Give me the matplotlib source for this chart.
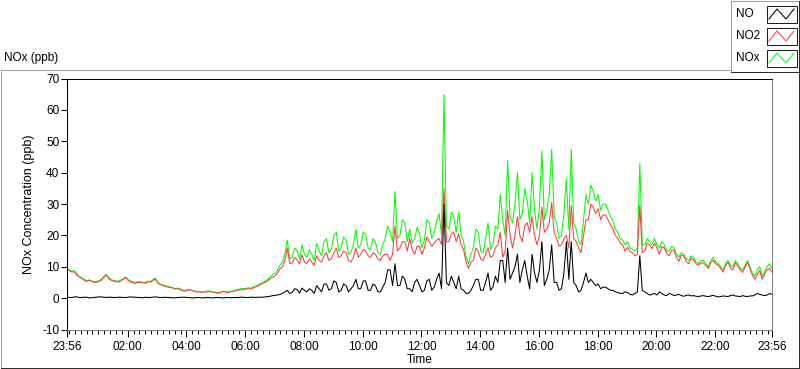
import numpy as np
import matplotlib
matplotlib.use("Agg")
import matplotlib.pyplot as plt
from matplotlib.patches import Rectangle

plt.rcParams['font.family'] = ['Liberation Sans', 'DejaVu Sans']

# ---------------- data (5-minute samples starting 23:56) ----------------
series_names = ["NO", "NO2", "NOx"]
series_colors = ["#000000", "#ff3c3c", "#00ff00"]
sample_minutes = 5

nox = [9.5, 9.0, 8.5, 8.8, 7.8, 7.0, 6.5, 6.0, 5.6, 5.8, 5.5, 5.2, 5.3, 5.7, 6.0, 6.8, 7.6, 6.5, 6.0, 5.6,
       5.5, 5.4, 5.8, 6.2, 6.7, 5.9, 5.5, 5.2, 5.0, 5.3, 5.2, 5.0, 5.0, 5.4, 5.3, 5.8, 6.5, 5.2, 4.5, 4.3,
       4.0, 3.8, 3.6, 3.4, 3.0, 3.2, 3.0, 2.7, 2.5, 2.6, 2.8, 2.5, 2.3, 2.1, 2.2, 2.0, 2.0, 2.2, 2.3, 2.1,
       2.0, 1.8, 1.8, 2.0, 2.2, 2.1, 2.0, 2.2, 2.3, 2.6, 2.8, 3.0, 3.0, 3.1, 3.3, 3.2, 3.5, 3.8, 4.2, 4.6,
       5.0, 5.5, 6.0, 6.8, 7.5, 8.0, 9.0, 10.5, 11.5, 14.0, 18.5, 12.5, 13.0, 16.0, 15.0, 12.5, 17.0, 14.0, 13.0, 15.5,
       14.0, 12.0, 17.5, 15.0, 13.5, 18.0, 19.0, 14.5, 15.5, 20.0, 21.0, 15.0, 16.0, 19.5, 18.5, 14.0, 14.5, 17.0, 22.0, 16.0,
       17.0, 21.0, 20.5, 16.0, 15.5, 19.0, 18.0, 14.5, 14.0, 17.0, 19.0, 23.0, 21.0, 18.0, 34.0, 19.0, 20.0, 25.0, 24.0, 18.0,
       22.0, 17.5, 19.0, 22.5, 20.5, 16.0, 18.5, 25.0, 24.0, 19.0, 21.0, 24.5, 27.0, 20.0, 65.0, 23.0, 22.0, 27.5, 26.0, 21.0,
       27.5, 20.0, 18.0, 13.0, 11.0, 14.0, 16.0, 22.0, 21.0, 15.0, 14.5, 19.0, 24.0, 15.5, 17.0, 23.0, 22.0, 33.0, 25.0, 20.0,
       44.0, 26.0, 24.0, 30.0, 40.0, 25.0, 27.0, 35.0, 31.0, 24.0, 40.0, 28.0, 22.0, 29.0, 47.0, 25.0, 28.0, 33.0, 47.5, 26.0,
       24.0, 19.0, 20.0, 27.0, 38.0, 22.0, 47.5, 24.0, 22.0, 18.0, 17.0, 25.0, 33.0, 30.0, 36.0, 34.0, 31.0, 33.0, 28.0, 30.0,
       30.0, 28.0, 26.0, 24.5, 22.0, 21.0, 19.0, 18.5, 17.0, 18.0, 16.0, 15.5, 15.0, 16.0, 43.0, 17.0, 17.0, 19.0, 18.0, 17.0,
       19.0, 17.0, 16.0, 18.0, 17.0, 15.0, 15.0, 16.5, 16.0, 14.0, 13.0, 14.5, 14.0, 12.5, 12.0, 13.5, 13.0, 11.5, 11.0, 12.0,
       12.0, 11.0, 10.0, 12.0, 13.0, 11.5, 11.0, 10.0, 9.0, 11.0, 12.0, 10.5, 10.0, 12.0, 11.0, 9.5, 9.0, 10.5, 12.0, 10.0,
       8.0, 7.0, 9.0, 10.0, 7.0, 8.5, 10.0, 11.0, 9.5]

no = [0.3, 0.2, 0.2, 0.4, 0.4, 0.2, 0.2, 0.3, 0.3, 0.1, 0.1, 0.2, 0.3, 0.4, 0.4, 0.3, 0.2, 0.3, 0.3, 0.2,
      0.2, 0.3, 0.3, 0.2, 0.2, 0.3, 0.4, 0.3, 0.3, 0.2, 0.2, 0.1, 0.3, 0.2, 0.2, 0.3, 0.4, 0.3, 0.2, 0.2,
      0.3, 0.2, 0.2, 0.1, 0.1, 0.2, 0.2, 0.3, 0.3, 0.2, 0.2, 0.1, 0.1, 0.2, 0.2, 0.1, 0.1, 0.2, 0.2, 0.1,
      0.1, 0.2, 0.2, 0.1, 0.1, 0.2, 0.2, 0.1, 0.2, 0.2, 0.2, 0.3, 0.3, 0.2, 0.2, 0.3, 0.3, 0.2, 0.3, 0.3,
      0.3, 0.4, 0.5, 0.6, 0.8, 0.9, 1.0, 1.2, 1.5, 2.0, 2.5, 1.5, 1.8, 3.0, 2.8, 1.6, 3.2, 2.5, 2.0, 3.0,
      2.5, 1.5, 4.0, 3.0, 2.0, 4.5, 4.5, 2.5, 3.0, 5.5, 5.0, 2.0, 2.5, 4.5, 4.0, 2.0, 3.0, 4.0, 6.0, 3.0,
      3.0, 5.5, 5.5, 2.5, 2.5, 4.5, 4.0, 2.0, 2.0, 3.5, 5.0, 9.0, 9.0, 4.0, 11.0, 4.0, 4.0, 7.0, 6.0, 3.0,
      3.0, 2.0, 5.0, 6.0, 4.0, 2.0, 2.5, 5.5, 6.0, 2.5, 3.5, 6.0, 8.0, 3.0, 30.0, 5.0, 4.0, 7.0, 5.0, 3.0,
      7.0, 3.0, 2.5, 1.5, 1.5, 2.5, 4.0, 6.0, 6.0, 2.5, 2.5, 5.0, 8.0, 2.5, 3.5, 7.0, 5.0, 12.0, 12.0, 5.0,
      16.0, 6.0, 8.0, 10.0, 14.0, 5.0, 9.0, 12.0, 7.0, 3.0, 14.0, 8.0, 5.0, 9.0, 18.0, 4.0, 6.0, 9.0, 17.0, 5.0,
      5.0, 2.5, 3.0, 8.0, 18.0, 6.0, 18.0, 5.0, 4.0, 2.0, 2.5, 5.0, 8.0, 5.0, 6.0, 5.0, 4.0, 4.5, 3.0, 3.5,
      3.5, 3.0, 2.5, 2.5, 2.0, 1.8, 1.5, 1.5, 2.0, 1.8, 1.2, 1.0, 1.5, 2.0, 13.5, 2.5, 2.0, 1.5, 1.0, 1.2,
      1.5, 1.0, 2.0, 1.5, 1.0, 0.8, 1.5, 1.2, 0.8, 1.0, 1.2, 0.8, 0.6, 0.9, 1.0, 0.7, 0.8, 0.6, 0.5, 0.7,
      0.8, 0.6, 0.5, 0.7, 0.9, 0.6, 0.4, 0.5, 0.7, 0.6, 0.5, 0.8, 1.0, 0.7, 0.6, 0.5, 0.8, 0.6, 0.5, 0.7,
      0.7, 1.0, 1.5, 1.2, 1.0, 0.8, 1.0, 1.5, 1.2]

no2 = [9.2, 8.8, 8.3, 8.4, 7.4, 6.8, 6.3, 5.7, 5.3, 5.7, 5.4, 5.0, 5.0, 5.3, 5.6, 6.5, 7.4, 6.2, 5.7, 5.4,
       5.3, 5.1, 5.5, 6.0, 6.5, 5.6, 5.1, 4.9, 4.7, 5.1, 5.0, 4.9, 4.7, 5.2, 5.1, 5.5, 6.1, 4.9, 4.3, 4.1,
       3.7, 3.6, 3.4, 3.3, 2.9, 3.0, 2.8, 2.4, 2.2, 2.4, 2.6, 2.4, 2.2, 1.9, 2.0, 1.9, 1.9, 2.0, 2.1, 2.0,
       1.9, 1.6, 1.6, 1.9, 2.1, 1.9, 1.8, 2.1, 2.1, 2.4, 2.6, 2.7, 2.7, 2.9, 3.1, 2.9, 3.2, 3.6, 3.9, 4.3,
       4.7, 5.1, 5.5, 6.2, 6.7, 7.1, 8.0, 9.3, 10.0, 12.0, 16.0, 11.0, 11.2, 13.0, 12.2, 10.9, 13.8, 11.5, 11.0, 12.5,
       11.5, 10.5, 13.5, 12.0, 11.5, 13.5, 14.5, 12.0, 12.5, 14.5, 16.0, 13.0, 13.5, 15.0, 14.5, 12.0, 11.5, 13.0, 16.0, 13.0,
       14.0, 15.5, 15.0, 13.5, 13.0, 14.5, 14.0, 12.5, 12.0, 13.5, 14.0, 14.0, 12.0, 14.0, 23.0, 15.0, 16.0, 18.0, 18.0, 15.0,
       19.0, 15.5, 14.0, 16.5, 16.5, 14.0, 16.0, 19.5, 18.0, 16.5, 17.5, 18.5, 19.0, 17.0, 35.0, 18.0, 18.0, 20.5, 21.0, 18.0,
       20.5, 17.0, 15.5, 11.5, 9.5, 11.5, 12.0, 16.0, 15.0, 12.5, 12.0, 14.0, 16.0, 13.0, 13.5, 16.0, 17.0, 21.0, 13.0, 15.0,
       28.0, 20.0, 16.0, 20.0, 26.0, 20.0, 18.0, 23.0, 24.0, 21.0, 26.0, 20.0, 17.0, 20.0, 29.0, 21.0, 22.0, 24.0, 30.5, 21.0,
       19.0, 16.5, 17.0, 19.0, 20.0, 16.0, 29.5, 19.0, 18.0, 16.0, 14.5, 20.0, 25.0, 25.0, 30.0, 29.0, 27.0, 28.5, 25.0, 26.5,
       26.5, 25.0, 23.5, 22.0, 20.0, 19.2, 17.5, 17.0, 15.0, 16.2, 14.8, 14.5, 13.5, 14.0, 29.5, 14.5, 15.0, 17.5, 17.0, 15.8,
       17.5, 16.0, 14.0, 16.5, 16.0, 14.2, 13.5, 15.3, 15.2, 13.0, 11.8, 13.7, 13.4, 11.6, 11.0, 12.8, 12.2, 10.9, 10.5, 11.3,
       11.2, 10.4, 9.5, 11.3, 12.1, 10.9, 10.6, 9.5, 8.3, 10.4, 11.5, 9.7, 9.0, 11.3, 10.4, 9.0, 8.2, 9.9, 11.5, 9.3,
       7.3, 6.0, 7.5, 8.8, 6.0, 7.7, 9.0, 9.5, 8.3]

x_tick_labels = ["23:56", "02:00", "04:00", "06:00", "08:00", "10:00", "12:00",
                 "14:00", "16:00", "18:00", "20:00", "22:00", "23:56"]
y_ticks = [-10, 0, 10, 20, 30, 40, 50, 60, 70]

# ---------------- figure ----------------
W, H = 800, 369
fig = plt.figure(figsize=(W / 100, H / 100), dpi=100)

bg = fig.add_axes([0, 0, 1, 1], zorder=0)
bg.set_xlim(0, W)
bg.set_ylim(H, 0)
bg.axis('off')

lw1 = 0.75
light = '#a0a0a0'
dark = '#303030'
# outer frame
bg.plot([0.5, 0.5], [69.5, 367.5], color=light, lw=lw1)
bg.plot([0.5, 731], [69.5, 69.5], color=light, lw=lw1)
bg.plot([0.5, 798.5], [367.5, 367.5], color=dark, lw=lw1)
bg.plot([798.5, 798.5], [71.5, 367.5], color=dark, lw=lw1)
bg.text(4, 58, "NOx (ppb)", fontsize=8.5, va='center', ha='left')

# legend box
bg.add_patch(Rectangle((730.5, 0.5), 68, 71, facecolor='white', edgecolor='none', zorder=2))
bg.plot([730.5, 730.5], [0.5, 71.5], color=light, lw=lw1, zorder=3)
bg.plot([730.5, 798.5], [0.5, 0.5], color=light, lw=lw1, zorder=3)
bg.plot([730.5, 798.5], [71.5, 71.5], color=dark, lw=lw1, zorder=3)
bg.plot([798.5, 798.5], [0.5, 71.5], color=dark, lw=lw1, zorder=3)
leg_y = [14, 36, 58]
for name, col, yc in zip(series_names, series_colors, leg_y):
    bg.text(736, yc, name, fontsize=8.5, va='center', ha='left', zorder=4)
    bg.add_patch(Rectangle((766.5, yc - 8.5), 30, 17, facecolor='white',
                           edgecolor='#202020', lw=lw1, zorder=4))
    zx = [769, 777, 786, 794]
    zy = [yc + 5, yc - 5, yc + 5, yc - 5]
    bg.plot(zx, zy, color=col, lw=lw1, zorder=5)

# main plot axes
left, right, top, bottom = 67, 772, 78.6, 329.5
ax = fig.add_axes([left / W, 1 - bottom / H, (right - left) / W, (bottom - top) / H], zorder=1)

t = np.arange(len(nox)) * sample_minutes
order = [(nox, series_colors[2], 1), (no2, series_colors[1], 2), (no, series_colors[0], 3)]
for vals, col, z in order:
    ax.plot(t, vals, color=col, lw=lw1, zorder=z)

ax.set_xlim(0, 1440)
ax.set_ylim(-10, 70)
ax.set_yticks(y_ticks)
ax.set_yticklabels([str(v) for v in y_ticks])

major = [0] + [124 + 120 * k for k in range(11)] + [1440]
minor = [m for m in range(4, 1440, 12) if m not in major]
ax.set_xticks(major)
ax.set_xticklabels(x_tick_labels)
ax.set_xticks(minor, minor=True)

ax.tick_params(axis='y', length=4, width=lw1, pad=1.5, labelsize=8.5)
ax.tick_params(axis='x', which='major', length=5, width=lw1, pad=3, labelsize=8.5)
ax.tick_params(axis='x', which='minor', length=3, width=lw1)

for s in ['left', 'top']:
    ax.spines[s].set_color('black')
    ax.spines[s].set_linewidth(lw1)
for s in ['right', 'bottom']:
    ax.spines[s].set_color('#808080')
    ax.spines[s].set_linewidth(lw1)

ax.set_ylabel("NOx Concentration (ppb)", fontsize=9, labelpad=5)
ax.set_xlabel("Time", fontsize=8.5, labelpad=1)

fig.savefig("out.png", dpi=100)
